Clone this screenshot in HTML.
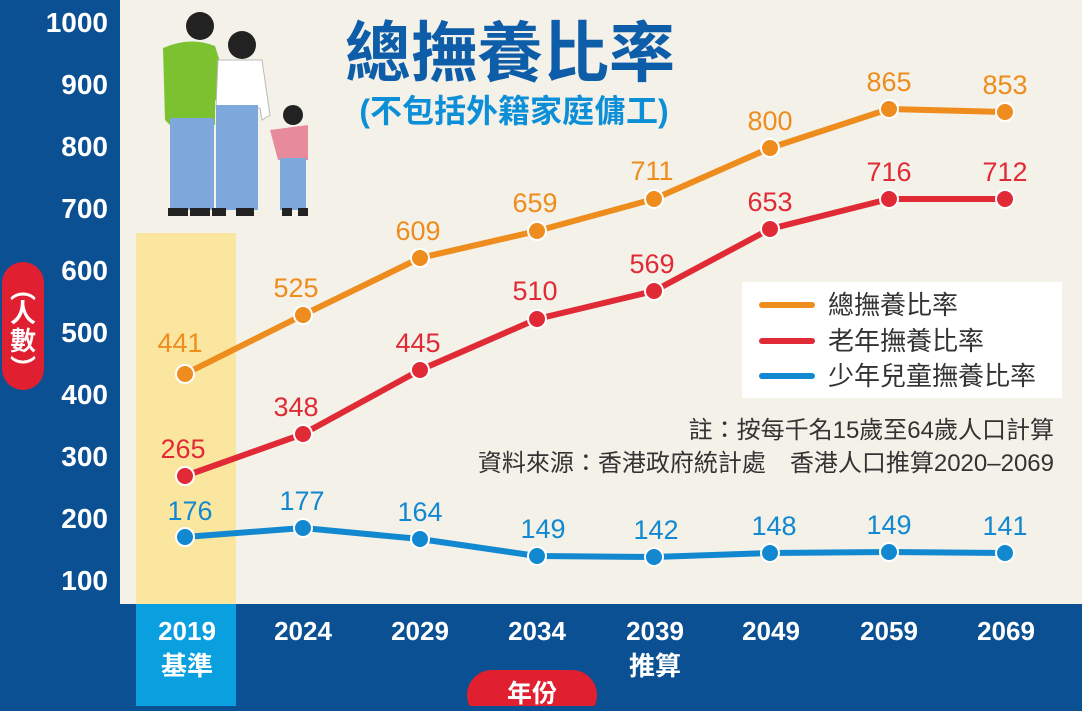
<!DOCTYPE html>
<html><head><meta charset="utf-8"><style>
body{margin:0;width:1082px;height:706px;overflow:hidden;background:#0a5092;}
</style></head><body>
<svg width="1082" height="706" xmlns="http://www.w3.org/2000/svg" font-family="'Liberation Sans','Noto Sans CJK TC',sans-serif">
<rect x="0" y="0" width="1082" height="706" fill="#0a5092"/>
<rect x="120" y="0" width="962" height="604" fill="#f3f1e8"/>
<rect x="136" y="233" width="100" height="371" fill="#fbe6a0"/>
<rect x="136" y="604" width="100" height="102" fill="#0aa0e0"/>
<g fill="#fff" font-weight="bold" font-size="28" text-anchor="end">
<text x="108" y="32">1000</text><text x="108" y="94">900</text><text x="108" y="156">800</text><text x="108" y="218">700</text>
<text x="108" y="280">600</text><text x="108" y="342">500</text><text x="108" y="404">400</text><text x="108" y="466">300</text>
<text x="108" y="528">200</text><text x="108" y="590">100</text>
</g>
<rect x="2" y="262" width="42" height="128" rx="21" fill="#e02030"/>
<g fill="#fff" font-weight="bold" font-size="26" text-anchor="middle">
<text x="23" y="298">︵</text><text x="23" y="322">人</text><text x="23" y="350">數</text><text x="23" y="378">︶</text>
</g>
<g fill="#fff" font-weight="bold" font-size="26" text-anchor="middle">
<text x="187" y="640">2019</text><text x="303" y="640">2024</text><text x="420" y="640">2029</text><text x="537" y="640">2034</text>
<text x="655" y="640">2039</text><text x="771" y="640">2049</text><text x="889" y="640">2059</text><text x="1006" y="640">2069</text>
<text x="187" y="675">基準</text><text x="655" y="675">推算</text>
</g>
<rect x="467" y="670" width="130" height="50" rx="25" fill="#e02030"/>
<text x="532" y="702" fill="#fff" font-weight="bold" font-size="25" text-anchor="middle">年份</text>
<text x="510" y="76" fill="#0d5da8" font-weight="bold" font-size="66" text-anchor="middle">總撫養比率</text>
<text x="514" y="122" fill="#0d8fd8" font-weight="bold" font-size="32" text-anchor="middle">(不包括外籍家庭傭工)</text>
<g>
<circle cx="200" cy="26" r="14" fill="#222"/>
<path d="M163 48 Q190 36 215 46 L232 100 L222 108 L215 100 L215 125 L170 125 L165 120 Z" fill="#7cc230"/>
<rect x="170" y="118" width="44" height="92" fill="#7ea8dc"/>
<circle cx="242" cy="45" r="14" fill="#222"/>
<path d="M218 60 L262 60 L270 115 L262 120 L260 108 L216 108 Z" fill="#fff" stroke="#bbb"/>
<rect x="216" y="105" width="42" height="105" fill="#7ea8dc"/>
<circle cx="293" cy="115" r="10" fill="#222"/>
<path d="M270 130 L308 125 L308 160 L278 160 Z" fill="#e78a9a"/>
<rect x="280" y="158" width="26" height="52" fill="#7ea8dc"/>
<g fill="#222"><rect x="168" y="208" width="20" height="8"/><rect x="190" y="208" width="20" height="8"/><rect x="212" y="208" width="14" height="8"/><rect x="236" y="208" width="18" height="8"/><rect x="282" y="208" width="10" height="8"/><rect x="298" y="208" width="10" height="8"/></g>
</g>
<rect x="742" y="282" width="320" height="116" fill="#fff"/>
<g stroke-width="6" stroke-linecap="round"><line x1="762" y1="305" x2="812" y2="305" stroke="#ee8c1e"/><line x1="762" y1="341" x2="812" y2="341" stroke="#e02a36"/><line x1="762" y1="376" x2="812" y2="376" stroke="#1288d0"/></g>
<g fill="#333" font-size="26"><text x="828" y="314">總撫養比率</text><text x="828" y="350">老年撫養比率</text><text x="828" y="385">少年兒童撫養比率</text></g>
<g fill="#333" font-size="24" text-anchor="end"><text x="1054" y="438">註：按每千名15歲至64歲人口計算</text><text x="1054" y="471">資料來源：香港政府統計處　香港人口推算2020–2069</text></g>
<g fill="none" stroke-width="6" stroke-linejoin="round">
<polyline stroke="#ee8c1e" points="185,374 303,315 420,258 537,231 654,199 770,148 889,109 1005,112"/>
<polyline stroke="#e02a36" points="185,476 303,434 420,370 537,319 654,291 770,229 889,199 1005,199"/>
<polyline stroke="#1288d0" points="185,537 303,528 420,539 537,556 654,557 770,553 889,552 1005,553"/>
</g>
<g stroke="#fff" stroke-width="2">
<g fill="#ee8c1e"><circle cx="185" cy="374" r="9"/><circle cx="303" cy="315" r="9"/><circle cx="420" cy="258" r="9"/><circle cx="537" cy="231" r="9"/><circle cx="654" cy="199" r="9"/><circle cx="770" cy="148" r="9"/><circle cx="889" cy="109" r="9"/><circle cx="1005" cy="112" r="9"/></g>
<g fill="#e02a36"><circle cx="185" cy="476" r="9"/><circle cx="303" cy="434" r="9"/><circle cx="420" cy="370" r="9"/><circle cx="537" cy="319" r="9"/><circle cx="654" cy="291" r="9"/><circle cx="770" cy="229" r="9"/><circle cx="889" cy="199" r="9"/><circle cx="1005" cy="199" r="9"/></g>
<g fill="#1288d0"><circle cx="185" cy="537" r="9"/><circle cx="303" cy="528" r="9"/><circle cx="420" cy="539" r="9"/><circle cx="537" cy="556" r="9"/><circle cx="654" cy="557" r="9"/><circle cx="770" cy="553" r="9"/><circle cx="889" cy="552" r="9"/><circle cx="1005" cy="553" r="9"/></g>
</g>
<g font-size="27" text-anchor="middle">
<g fill="#ee8c1e"><text x="180" y="352">441</text><text x="296" y="297">525</text><text x="418" y="240">609</text><text x="535" y="212">659</text><text x="652" y="180">711</text><text x="770" y="130">800</text><text x="889" y="91">865</text><text x="1005" y="94">853</text></g>
<g fill="#e02a36"><text x="183" y="458">265</text><text x="296" y="416">348</text><text x="418" y="352">445</text><text x="535" y="300">510</text><text x="652" y="273">569</text><text x="770" y="211">653</text><text x="889" y="181">716</text><text x="1005" y="181">712</text></g>
<g fill="#1288d0"><text x="190" y="520">176</text><text x="302" y="510">177</text><text x="420" y="521">164</text><text x="543" y="538">149</text><text x="656" y="539">142</text><text x="774" y="535">148</text><text x="889" y="534">149</text><text x="1005" y="535">141</text></g>
</g>
</svg>
</body></html>
